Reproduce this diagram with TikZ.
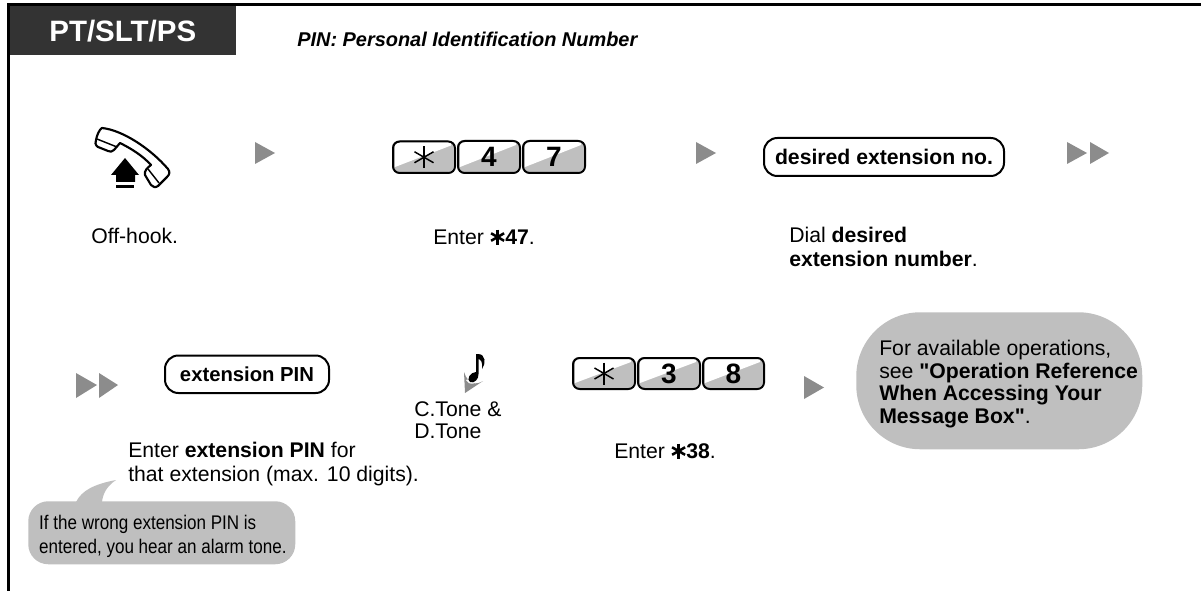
\documentclass[tikz,border=0pt]{standalone}
\usepackage{fontspec}
\setmainfont{Liberation Sans}
\newfontfamily\plainq{Liberation Sans}
\definecolor{hdr}{HTML}{333333}
\definecolor{bub}{HTML}{BFBFBF}
\definecolor{tri}{HTML}{8C8C8C}
\tikzset{
 x=0.75pt,y=-0.75pt,
 lbl/.style={anchor=north west,inner sep=0pt,align=left,font=\fontsize{15.9}{17.6}\selectfont},
 keybox/.style={inner sep=0pt,font=\fontsize{21}{21}\selectfont\bfseries},
 frameline/.style={line width=2.2pt,black},
 roundlabel/.style={draw=black,line width=1.5pt,rounded corners=10pt,inner sep=0pt,font=\fontsize{15.9}{17}\selectfont\bfseries},
}
\newcommand{\keycap}[6]{% name x1 y1 x2 y2 label
 \fill[bub,rounded corners=5pt] (#2,#3) rectangle (#4,#5);
 \fill[white] (#2+3,#5-5) -- (#2+3,#3+1.5) -- (#4-3,#3+1.5) -- (#4-3,#3+5) -- cycle;
 \node[draw=black,line width=1.5pt,rounded corners=5pt,minimum width=(#4-#2)*0.75pt,minimum height=(#5-#3)*0.75pt,keybox,anchor=north west] (#1) at (#2,#3) {#6};
}
\newcommand{\keystar}{\tikz[baseline=-0.6ex,x=0.75pt,y=0.75pt]{\foreach \a in {90,30,-30}{\draw[line width=1.1pt] (\a:11) -- (\a+180:11);}}}
\newcommand{\smallstar}{\tikz[baseline=-5.6pt,x=0.75pt,y=0.75pt]{\foreach \a in {90,30,-30}{\draw[line width=1.9pt] (\a:7.5) -- (\a+180:7.5);}}}
\begin{document}
\begin{tikzpicture}
\useasboundingbox (0,0) rectangle (1201,591);
% frame
\draw[frameline] (8.5,591) -- (8.5,4.5) -- (1201,4.5);
\node[fill=hdr,text=white,inner sep=0pt,minimum width=226*0.75pt,minimum height=49*0.75pt,anchor=north west,font=\fontsize{22.1}{22}\selectfont\bfseries] (head) at (9.5,6) {PT/SLT/PS};
\node[lbl,anchor=west,font=\fontsize{14.95}{16}\selectfont\bfseries\itshape] (pin) at (297,39) {PIN: Personal Identification Number};
% handset
\draw[line width=1.6pt,line join=round,fill=white] (102,128) .. controls (122,130) and (150,148) .. (168,169) .. controls (170,172) and (170,174) .. (167,177) -- (158,186) .. controls (155,188) and (153,187) .. (151,185) -- (145,175) .. controls (144,171) and (147,168) .. (151,165) .. controls (142,155) and (130,148) .. (120,143) -- (114,150) .. controls (112,152) and (110,152) .. (108,151) -- (98,147) .. controls (95,145) and (95,142) .. (96,140) .. controls (97,135) and (99,130) .. (102,128) -- cycle;
\draw[line width=1.1pt] (97,139) -- (117,147);
\draw[line width=1.1pt] (148,169) -- (159,183);
\fill[black] (125,158) -- (111,175) -- (116,175) -- (116,182) -- (135,182) -- (135,175) -- (139,175) -- cycle;
\fill[black] (116,185) rectangle (134,188);
% arrows
\fill[tri] (255,142) -- (255,164) -- (275,153) -- cycle;
\fill[tri] (696,142) -- (696,164) -- (716,153) -- cycle;
\fill[tri] (1067,142) -- (1067,164) -- (1087,153) -- cycle;
\fill[tri] (1090,142) -- (1090,164) -- (1109,153) -- cycle;
\fill[tri] (76,373) -- (76,398) -- (97,385) -- cycle;
\fill[tri] (99,373) -- (99,398) -- (118,385) -- cycle;
\fill[tri] (804,376) -- (804,399) -- (824,387.5) -- cycle;
% keys
\keycap{ka}{392}{140.5}{454}{172}{\keystar}
\keycap{kb}{457}{140}{519}{172}{4}
\keycap{kc}{522}{140}{584}{172}{7}
\keycap{kd}{572}{357}{634}{388}{\keystar}
\keycap{ke}{637}{357}{699}{388}{3}
\keycap{kf}{702}{357}{763}{388}{8}
% rounded labels
\node[roundlabel,minimum width=240*0.75pt,minimum height=38*0.75pt,anchor=north west] (dext) at (763,137) {desired extension no.\hspace{6pt}};
\node[roundlabel,font=\fontsize{15.2}{17}\selectfont\bfseries,minimum width=164*0.75pt,minimum height=37.5*0.75pt,anchor=north west] (pinb) at (164,354.5) {extension PIN};
% texts
\node[lbl] (t1) at (91,228) {Off-hook.};
\node[lbl] (t2) at (433,228) {Enter \smallstar\textbf{47}.};
\node[lbl] (t3) at (789,227) {Dial \textbf{desired}\\\textbf{extension number}.};
\node[lbl,font=\fontsize{15.9}{18}\selectfont] (t4) at (128,442) {Enter \textbf{extension PIN} for\\that extension (max. 10 digits).};
\node[lbl,font=\fontsize{15.9}{16.5}\selectfont] (t5) at (414,401) {C.Tone \&\\D.Tone};
\node[lbl] (t6) at (614,442) {Enter \smallstar\textbf{38}.};
% note
\fill[tri] (464,372) -- (465,393) -- (483,381) .. controls (477,385) and (468,385) .. (464,372) -- cycle;
\fill[white] (466,380) .. controls (468,386) and (478,384) .. (482,378) -- (478,376) -- cycle;
\fill[black] (478.5,354) -- (478.5,374) .. controls (479,379) and (474,384) .. (470,382) .. controls (466,380) and (470,372) .. (476,372) -- (476,354) -- cycle;
\fill[black] (478,354) .. controls (486,354) and (486,364) .. (482,369) .. controls (483,363) and (481,359) .. (478,359) -- cycle;
% big bubble
\node[fill=bub,rounded corners=48pt,minimum width=286*0.75pt,minimum height=137*0.75pt,inner sep=0pt,anchor=north west] (bb) at (856,312) {};
\node[lbl,font=\fontsize{15.9}{17}\selectfont] (bt) at (879,340) {For available operations,\\see {\plainq\bfseries "}\textbf{Operation Reference}\\\textbf{When Accessing Your}\\\textbf{Message Box}{\plainq\bfseries "}.};
% small bubble
\fill[bub] (76,502) .. controls (82,490) and (95,484) .. (116,480) .. controls (106,487) and (103,494) .. (102,502) -- cycle;
\node[fill=bub,rounded corners=15pt,minimum width=267*0.75pt,minimum height=63*0.75pt,inner sep=0pt,anchor=north west] (sb) at (28,501) {};
\node[lbl,font=\fontsize{14.8}{18}\selectfont,xscale=0.864,transform shape,anchor=north west] (st) at (39,515) {If the wrong extension PIN is\\entered, you hear an alarm tone.};
\end{tikzpicture}
\end{document}
